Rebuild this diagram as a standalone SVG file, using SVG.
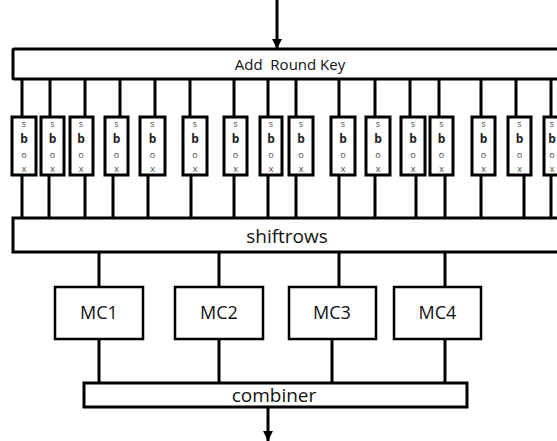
<svg xmlns="http://www.w3.org/2000/svg" width="557" height="441" viewBox="0 0 557 441">
<defs>
<style>
.blk{fill:#fff;stroke:#000;stroke-width:3}
.mc{fill:#fff;stroke:#000;stroke-width:2.5}
.sb{fill:#fff;stroke:#000;stroke-width:3}
.ln{stroke:#000;stroke-width:3;fill:none}
.t{font-family:"Open Sans","DejaVu Sans",sans-serif;fill:#111;text-anchor:middle}
.s{font-family:"Open Sans","DejaVu Sans",sans-serif;fill:#444;text-anchor:middle;font-size:9px}
.b{font-family:"Open Sans","DejaVu Sans",sans-serif;fill:#222;text-anchor:middle;font-size:12px;font-weight:bold}
</style>
<marker id="ah" viewBox="0 0 10 10" refX="10" refY="5" markerWidth="3.3" markerHeight="3.3" orient="auto" markerUnits="strokeWidth">
<path d="M0,0 L10,5 L0,10 z" fill="#000"/>
</marker>
</defs>
<g id="connectors">
<line class="ln" x1="277" y1="0" x2="277" y2="49" marker-end="url(#ah)"/>
<path class="ln" d="M22,79V117M50,79V117M85,79V117M120,79V117M155,79V117M190,79V117M234,79V117M268,79V117M296,79V117M339,79V117M375,79V117M410,79V117M439,79V117M481,79V117M516,79V117M551,79V117"/>
<path class="ln" d="M22,175V218M49,175V218M85,175V218M113,175V218M148,175V218M191,175V218M234,175V218M268,175V218M296,175V218M339,175V218M375,175V218M416,175V218M445,175V218M481,175V218M524,175V218M551,175V218"/>
<path class="ln" d="M99,252V287M219,252V287M339,252V287M445,242V287"/>
<path class="ln" d="M99,339V383M219,339V383M332,339V383M445,339V383"/>
<line class="ln" x1="268" y1="407" x2="268" y2="441" marker-end="url(#ah)"/>
</g>
<g id="addroundkey">
<rect class="blk" x="13" y="49" width="560" height="30" rx="1"/>
<text class="t" x="290" y="70" font-size="15" style="white-space:pre">Add  Round Key</text>
</g>
<g id="sboxes">
<g id="sbox1"><rect class="sb" x="12" y="117" width="24" height="58"/><text class="s" x="24" y="127">s</text><text class="b" x="24" y="143">b</text><text class="s" x="24" y="158">o</text><text class="s" x="24" y="172">x</text></g>
<g id="sbox2"><rect class="sb" x="41" y="117" width="23" height="58"/><text class="s" x="52.5" y="127">s</text><text class="b" x="52.5" y="143">b</text><text class="s" x="52.5" y="158">o</text><text class="s" x="52.5" y="172">x</text></g>
<g id="sbox3"><rect class="sb" x="70" y="117" width="23" height="58"/><text class="s" x="81" y="127">s</text><text class="b" x="81" y="143">b</text><text class="s" x="81" y="158">o</text><text class="s" x="81" y="172">x</text></g>
<g id="sbox4"><rect class="sb" x="105" y="117" width="23" height="58"/><text class="s" x="116.5" y="127">s</text><text class="b" x="116.5" y="143">b</text><text class="s" x="116.5" y="158">o</text><text class="s" x="116.5" y="172">x</text></g>
<g id="sbox5"><rect class="sb" x="140" y="117" width="25" height="58"/><text class="s" x="152.5" y="127">s</text><text class="b" x="152.5" y="143">b</text><text class="s" x="152.5" y="158">o</text><text class="s" x="152.5" y="172">x</text></g>
<g id="sbox6"><rect class="sb" x="183" y="117" width="24" height="58"/><text class="s" x="195" y="127">s</text><text class="b" x="195" y="143">b</text><text class="s" x="195" y="158">o</text><text class="s" x="195" y="172">x</text></g>
<g id="sbox7"><rect class="sb" x="224" y="117" width="23" height="58"/><text class="s" x="235.5" y="127">s</text><text class="b" x="235.5" y="143">b</text><text class="s" x="235.5" y="158">o</text><text class="s" x="235.5" y="172">x</text></g>
<g id="sbox8"><rect class="sb" x="260" y="117" width="22" height="58"/><text class="s" x="271" y="127">s</text><text class="b" x="271" y="143">b</text><text class="s" x="271" y="158">o</text><text class="s" x="271" y="172">x</text></g>
<g id="sbox9"><rect class="sb" x="289" y="117" width="24" height="58"/><text class="s" x="301" y="127">s</text><text class="b" x="301" y="143">b</text><text class="s" x="301" y="158">o</text><text class="s" x="301" y="172">x</text></g>
<g id="sbox10"><rect class="sb" x="331" y="117" width="24" height="58"/><text class="s" x="343" y="127">s</text><text class="b" x="343" y="143">b</text><text class="s" x="343" y="158">o</text><text class="s" x="343" y="172">x</text></g>
<g id="sbox11"><rect class="sb" x="366" y="117" width="24" height="58"/><text class="s" x="378" y="127">s</text><text class="b" x="378" y="143">b</text><text class="s" x="378" y="158">o</text><text class="s" x="378" y="172">x</text></g>
<g id="sbox12"><rect class="sb" x="401" y="117" width="24" height="58"/><text class="s" x="413" y="127">s</text><text class="b" x="413" y="143">b</text><text class="s" x="413" y="158">o</text><text class="s" x="413" y="172">x</text></g>
<g id="sbox13"><rect class="sb" x="430" y="117" width="23" height="58"/><text class="s" x="441.5" y="127">s</text><text class="b" x="441.5" y="143">b</text><text class="s" x="441.5" y="158">o</text><text class="s" x="441.5" y="172">x</text></g>
<g id="sbox14"><rect class="sb" x="472" y="117" width="23" height="58"/><text class="s" x="483.5" y="127">s</text><text class="b" x="483.5" y="143">b</text><text class="s" x="483.5" y="158">o</text><text class="s" x="483.5" y="172">x</text></g>
<g id="sbox15"><rect class="sb" x="508" y="117" width="23" height="58"/><text class="s" x="519.5" y="127">s</text><text class="b" x="519.5" y="143">b</text><text class="s" x="519.5" y="158">o</text><text class="s" x="519.5" y="172">x</text></g>
<g id="sbox16"><rect class="sb" x="544" y="117" width="23" height="58"/><text class="s" x="552" y="127">s</text><text class="b" x="552" y="143">b</text><text class="s" x="552" y="158">o</text><text class="s" x="552" y="172">x</text></g>
</g>
<g id="shiftrows">
<rect class="blk" x="13" y="218" width="560" height="34"/>
<text class="t" x="287" y="243" font-size="19">shiftrows</text>
</g>
<g id="mc1"><rect class="mc" x="55" y="287" width="88" height="52"/><text class="t" x="99" y="319" font-size="18">MC1</text></g>
<g id="mc2"><rect class="mc" x="175" y="287" width="88" height="52"/><text class="t" x="219" y="319" font-size="18">MC2</text></g>
<g id="mc3"><rect class="mc" x="289" y="287" width="87" height="52"/><text class="t" x="332" y="319" font-size="18">MC3</text></g>
<g id="mc4"><rect class="mc" x="394" y="287" width="87" height="52"/><text class="t" x="437.5" y="319" font-size="18">MC4</text></g>
<g id="combiner">
<rect class="blk" x="84" y="383" width="383" height="24"/>
<text class="t" x="274" y="402" font-size="19">combiner</text>
</g>
</svg>
